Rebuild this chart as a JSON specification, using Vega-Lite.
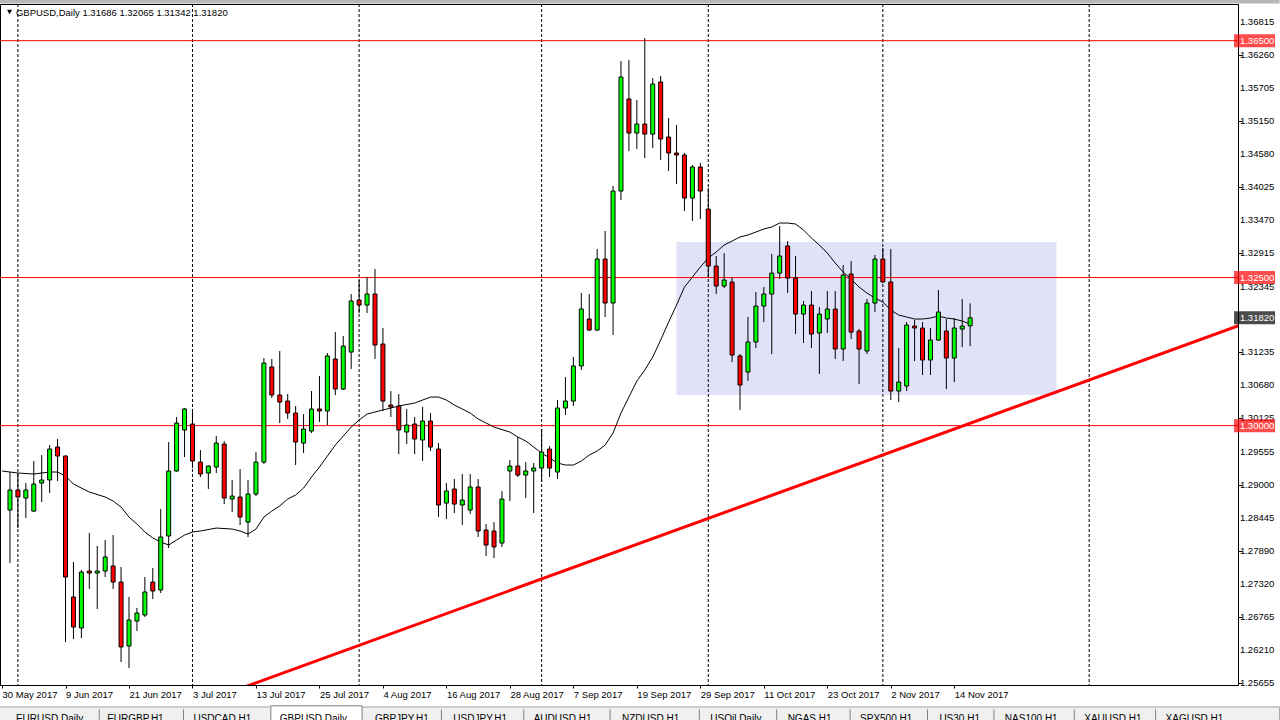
{
  "$schema": "https://vega.github.io/schema/vega-lite/v6.json",
  "width": 1238,
  "height": 681,
  "autosize": {"type": "none"},
  "padding": {"left": 0, "top": 4, "right": 42, "bottom": 35},
  "background": "white",
  "config": {"view": {"stroke": "black", "strokeWidth": 1}, "font": "Liberation Sans", "axis": {"labelOverlap": false, "labelFlush": false, "labelBound": false}},
  "datasets": {
    "bars": [
      {"i":0,"ma":1.29234},
      {"i":1,"o":1.28575,"h":1.29217,"l":1.27680,"c":1.28913},
      {"i":2,"o":1.28913,"h":1.29200,"l":1.28271,"c":1.28795,"ma":1.29200},
      {"i":3,"o":1.28778,"h":1.29031,"l":1.28440,"c":1.28913},
      {"i":4,"o":1.28558,"h":1.29402,"l":1.28540,"c":1.29014,"ma":1.29183},
      {"i":5,"o":1.29031,"h":1.29504,"l":1.28710,"c":1.29082},
      {"i":6,"o":1.29082,"h":1.29672,"l":1.28862,"c":1.29605,"ma":1.29217},
      {"i":7,"o":1.29639,"h":1.29774,"l":1.29065,"c":1.29487,"ma":1.29217},
      {"i":8,"o":1.29487,"h":1.29500,"l":1.26346,"c":1.27444,"ma":1.29149},
      {"i":9,"o":1.27107,"h":1.27697,"l":1.26397,"c":1.26600,"ma":1.29014},
      {"i":10,"o":1.26583,"h":1.27562,"l":1.26414,"c":1.27528},
      {"i":11,"o":1.27545,"h":1.28187,"l":1.27242,"c":1.27511,"ma":1.28879},
      {"i":12,"o":1.27511,"h":1.27968,"l":1.26904,"c":1.27545},
      {"i":13,"o":1.27545,"h":1.28069,"l":1.27444,"c":1.27782,"ma":1.28795},
      {"i":14,"o":1.27630,"h":1.28153,"l":1.27242,"c":1.27359,"ma":1.28727},
      {"i":15,"o":1.27359,"h":1.27613,"l":1.26009,"c":1.26263,"ma":1.28626},
      {"i":16,"o":1.26280,"h":1.27107,"l":1.25908,"c":1.26718,"ma":1.28457},
      {"i":17,"o":1.26701,"h":1.26921,"l":1.26532,"c":1.26836,"ma":1.28339},
      {"i":18,"o":1.26803,"h":1.27444,"l":1.26769,"c":1.27191,"ma":1.28204},
      {"i":19,"o":1.27359,"h":1.27596,"l":1.27073,"c":1.27208,"ma":1.28103},
      {"i":20,"o":1.27225,"h":1.28592,"l":1.27174,"c":1.28120,"ma":1.28035},
      {"i":21,"o":1.28137,"h":1.29723,"l":1.27934,"c":1.29234,"ma":1.27984},
      {"i":22,"o":1.29234,"h":1.30146,"l":1.29220,"c":1.30044,"ma":1.28069},
      {"i":23,"o":1.29926,"h":1.30298,"l":1.29470,"c":1.30281,"ma":1.28153},
      {"i":24,"o":1.30027,"h":1.30230,"l":1.29284,"c":1.29402,"ma":1.28204},
      {"i":25,"o":1.29385,"h":1.29588,"l":1.29132,"c":1.29183,"ma":1.28221},
      {"i":26,"o":1.29200,"h":1.29330,"l":1.28930,"c":1.29318},
      {"i":27,"o":1.29301,"h":1.29825,"l":1.29200,"c":1.29706,"ma":1.28271},
      {"i":28,"o":1.29689,"h":1.29740,"l":1.28676,"c":1.28778},
      {"i":29,"o":1.28761,"h":1.29082,"l":1.28541,"c":1.28811,"ma":1.28254},
      {"i":30,"o":1.28795,"h":1.29267,"l":1.28322,"c":1.28457,"ma":1.28221},
      {"i":31,"o":1.28372,"h":1.29082,"l":1.28120,"c":1.28845,"ma":1.28170},
      {"i":32,"o":1.28845,"h":1.29554,"l":1.28811,"c":1.29385,"ma":1.28254},
      {"i":33,"o":1.29385,"h":1.31142,"l":1.29352,"c":1.31057,"ma":1.28457},
      {"i":34,"o":1.30990,"h":1.31125,"l":1.30466,"c":1.30517,"ma":1.28558},
      {"i":35,"o":1.30517,"h":1.31260,"l":1.30044,"c":1.30398,"ma":1.28643},
      {"i":36,"o":1.30415,"h":1.30533,"l":1.30112,"c":1.30213,"ma":1.28761},
      {"i":37,"o":1.30213,"h":1.30331,"l":1.29335,"c":1.29723,"ma":1.28828},
      {"i":38,"o":1.29706,"h":1.30196,"l":1.29537,"c":1.29943,"ma":1.28946},
      {"i":39,"o":1.29909,"h":1.30584,"l":1.29875,"c":1.30281,"ma":1.29132},
      {"i":40,"o":1.30281,"h":1.30838,"l":1.30061,"c":1.30247,"ma":1.29301},
      {"i":41,"o":1.30247,"h":1.31226,"l":1.30010,"c":1.31176,"ma":1.29487},
      {"i":42,"o":1.31125,"h":1.31580,"l":1.30517,"c":1.30618,"ma":1.29672},
      {"i":43,"o":1.30618,"h":1.31513,"l":1.30600,"c":1.31344},
      {"i":44,"o":1.31243,"h":1.32222,"l":1.30956,"c":1.32104,"ma":1.29976},
      {"i":45,"o":1.32121,"h":1.32458,"l":1.31901,"c":1.32036,"ma":1.30095},
      {"i":46,"o":1.32036,"h":1.32509,"l":1.31901,"c":1.32222,"ma":1.30196},
      {"i":47,"o":1.32222,"h":1.32644,"l":1.31125,"c":1.31361,"ma":1.30230},
      {"i":48,"o":1.31378,"h":1.31648,"l":1.30247,"c":1.30415,"ma":1.30264},
      {"i":49,"o":1.30348,"h":1.30584,"l":1.30146,"c":1.30314},
      {"i":50,"o":1.30331,"h":1.30533,"l":1.29520,"c":1.29926,"ma":1.30331},
      {"i":51,"o":1.29892,"h":1.30281,"l":1.29689,"c":1.30010},
      {"i":52,"o":1.30027,"h":1.30146,"l":1.29520,"c":1.29774,"ma":1.30382},
      {"i":53,"o":1.29757,"h":1.30314,"l":1.29402,"c":1.30078,"ma":1.30432},
      {"i":54,"o":1.30078,"h":1.30213,"l":1.29571,"c":1.29639,"ma":1.30483},
      {"i":55,"o":1.29605,"h":1.29706,"l":1.28457,"c":1.28660,"ma":1.30483},
      {"i":56,"o":1.28693,"h":1.29031,"l":1.28423,"c":1.28896,"ma":1.30432},
      {"i":57,"o":1.28930,"h":1.29099,"l":1.28524,"c":1.28676,"ma":1.30348},
      {"i":58,"o":1.28660,"h":1.29183,"l":1.28322,"c":1.28744,"ma":1.30281},
      {"i":59,"o":1.28575,"h":1.29183,"l":1.28508,"c":1.28964,"ma":1.30213},
      {"i":60,"o":1.28964,"h":1.29099,"l":1.28120,"c":1.28221,"ma":1.30112},
      {"i":61,"o":1.28238,"h":1.28339,"l":1.27799,"c":1.27984},
      {"i":62,"o":1.28221,"h":1.28372,"l":1.27765,"c":1.27951,"ma":1.29976},
      {"i":63,"o":1.28018,"h":1.28896,"l":1.27951,"c":1.28761},
      {"i":64,"o":1.29234,"h":1.29419,"l":1.28727,"c":1.29318,"ma":1.29892},
      {"i":65,"o":1.29318,"h":1.29808,"l":1.29132,"c":1.29166,"ma":1.29808},
      {"i":66,"o":1.29166,"h":1.29385,"l":1.28778,"c":1.29234,"ma":1.29740},
      {"i":67,"o":1.29234,"h":1.29369,"l":1.28524,"c":1.29284,"ma":1.29639},
      {"i":68,"o":1.29284,"h":1.29943,"l":1.29048,"c":1.29554,"ma":1.29537},
      {"i":69,"o":1.29605,"h":1.29656,"l":1.29132,"c":1.29284,"ma":1.29453},
      {"i":70,"o":1.29217,"h":1.30432,"l":1.29099,"c":1.30298,"ma":1.29369},
      {"i":71,"o":1.30298,"h":1.30821,"l":1.30179,"c":1.30415,"ma":1.29335},
      {"i":72,"o":1.30415,"h":1.31159,"l":1.30331,"c":1.31007,"ma":1.29335},
      {"i":73,"o":1.31007,"h":1.32239,"l":1.30939,"c":1.31969,"ma":1.29402},
      {"i":74,"o":1.31800,"h":1.32222,"l":1.31597,"c":1.31614,"ma":1.29504},
      {"i":75,"o":1.31614,"h":1.32982,"l":1.31597,"c":1.32813,"ma":1.29571},
      {"i":76,"o":1.32813,"h":1.33286,"l":1.31834,"c":1.32070,"ma":1.29672},
      {"i":77,"o":1.32070,"h":1.34046,"l":1.31530,"c":1.33961,"ma":1.29875},
      {"i":78,"o":1.33961,"h":1.36156,"l":1.33809,"c":1.35886,"ma":1.30213},
      {"i":79,"o":1.35515,"h":1.36173,"l":1.34636,"c":1.34940,"ma":1.30483},
      {"i":80,"o":1.34940,"h":1.35498,"l":1.34670,"c":1.35092,"ma":1.30753},
      {"i":81,"o":1.35092,"h":1.36545,"l":1.34518,"c":1.34923,"ma":1.30939},
      {"i":82,"o":1.34923,"h":1.35869,"l":1.34687,"c":1.35768,"ma":1.31159},
      {"i":83,"o":1.35802,"h":1.35903,"l":1.34485,"c":1.34839,"ma":1.31445},
      {"i":84,"o":1.34873,"h":1.35194,"l":1.34299,"c":1.34603,"ma":1.31749},
      {"i":85,"o":1.34603,"h":1.35076,"l":1.34080,"c":1.34569,"ma":1.32036},
      {"i":86,"o":1.34569,"h":1.34603,"l":1.33623,"c":1.33843,"ma":1.32340},
      {"i":87,"o":1.33843,"h":1.34400,"l":1.33454,"c":1.34367,"ma":1.32509},
      {"i":88,"o":1.34367,"h":1.34434,"l":1.33488,"c":1.33961,"ma":1.32678},
      {"i":89,"o":1.33657,"h":1.34012,"l":1.32509,"c":1.32695,"ma":1.32830},
      {"i":90,"o":1.32695,"h":1.32864,"l":1.32222,"c":1.32357,"ma":1.32931},
      {"i":91,"o":1.32357,"h":1.32914,"l":1.32323,"c":1.32458,"ma":1.33050},
      {"i":92,"o":1.32425,"h":1.32509,"l":1.31074,"c":1.31192,"ma":1.33117},
      {"i":93,"o":1.31176,"h":1.31209,"l":1.30264,"c":1.30686,"ma":1.33185},
      {"i":94,"o":1.30905,"h":1.31834,"l":1.30753,"c":1.31412,"ma":1.33219},
      {"i":95,"o":1.31412,"h":1.32256,"l":1.31310,"c":1.32019,"ma":1.33269},
      {"i":96,"o":1.32019,"h":1.32340,"l":1.31749,"c":1.32222,"ma":1.33320},
      {"i":97,"o":1.32222,"h":1.32898,"l":1.31209,"c":1.32576,"ma":1.33354},
      {"i":98,"o":1.32576,"h":1.33370,"l":1.32475,"c":1.32864,"ma":1.33421},
      {"i":99,"o":1.33033,"h":1.33117,"l":1.32239,"c":1.32492,"ma":1.33421},
      {"i":100,"o":1.32492,"h":1.32864,"l":1.31547,"c":1.31884,"ma":1.33404},
      {"i":101,"o":1.31884,"h":1.32104,"l":1.31395,"c":1.32036,"ma":1.33303},
      {"i":102,"o":1.32036,"h":1.32273,"l":1.31310,"c":1.31547,"ma":1.33168},
      {"i":103,"o":1.31564,"h":1.32003,"l":1.30871,"c":1.31884,"ma":1.33050},
      {"i":104,"o":1.31800,"h":1.32273,"l":1.31564,"c":1.31969,"ma":1.32914},
      {"i":105,"o":1.31969,"h":1.32273,"l":1.31125,"c":1.31294,"ma":1.32745},
      {"i":106,"o":1.31294,"h":1.32712,"l":1.31091,"c":1.32543,"ma":1.32593},
      {"i":107,"o":1.32560,"h":1.32779,"l":1.31462,"c":1.31580,"ma":1.32475},
      {"i":108,"o":1.31597,"h":1.31631,"l":1.30703,"c":1.31294,"ma":1.32340},
      {"i":109,"o":1.31260,"h":1.32138,"l":1.31209,"c":1.32070,"ma":1.32239},
      {"i":110,"o":1.32070,"h":1.32881,"l":1.31918,"c":1.32813,"ma":1.32154},
      {"i":111,"o":1.32813,"h":1.32999,"l":1.32410,"c":1.32425,"ma":1.32087},
      {"i":112,"o":1.32425,"h":1.32982,"l":1.30432,"c":1.30584,"ma":1.31952},
      {"i":113,"o":1.30584,"h":1.31310,"l":1.30398,"c":1.30736,"ma":1.31867},
      {"i":114,"o":1.30669,"h":1.31749,"l":1.30584,"c":1.31698,"ma":1.31834},
      {"i":115,"o":1.31681,"h":1.31783,"l":1.31091,"c":1.31648,"ma":1.31800},
      {"i":116,"o":1.31648,"h":1.31749,"l":1.30855,"c":1.31108,"ma":1.31800},
      {"i":117,"o":1.31108,"h":1.31648,"l":1.30855,"c":1.31445,"ma":1.31817},
      {"i":118,"o":1.31445,"h":1.32290,"l":1.31430,"c":1.31918,"ma":1.31851},
      {"i":119,"o":1.31597,"h":1.31800,"l":1.30618,"c":1.31142,"ma":1.31817},
      {"i":120,"o":1.31142,"h":1.31817,"l":1.30736,"c":1.31648,"ma":1.31800},
      {"i":121,"o":1.31631,"h":1.32138,"l":1.31327,"c":1.31681,"ma":1.31766},
      {"i":122,"o":1.31686,"h":1.32065,"l":1.31342,"c":1.31820,"ma":1.31715}
    ],
    "box": [{"x1": 85, "x2": 132.875, "y1": 1.30517, "y2": 1.33100}],
    "seps": [{"i": 2}, {"i": 24}, {"i": 45}, {"i": 68}, {"i": 89}, {"i": 111}, {"i": 137}],
    "levels": [{"p": 1.365}, {"p": 1.325}, {"p": 1.3}],
    "trend": [{"i": 28, "p": 1.25463}, {"i": 156, "p": 1.31697}],
    "ylabels": [
      {"p": 1.36815, "t": "1.36815"}, {"p": 1.3626, "t": "1.36260"}, {"p": 1.35705, "t": "1.35705"},
      {"p": 1.3515, "t": "1.35150"}, {"p": 1.3458, "t": "1.34580"}, {"p": 1.34025, "t": "1.34025"},
      {"p": 1.3347, "t": "1.33470"}, {"p": 1.32915, "t": "1.32915"}, {"p": 1.32345, "t": "1.32345"},
      {"p": 1.31235, "t": "1.31235"}, {"p": 1.3068, "t": "1.30680"}, {"p": 1.30125, "t": "1.30125"},
      {"p": 1.29555, "t": "1.29555"}, {"p": 1.29, "t": "1.29000"}, {"p": 1.28445, "t": "1.28445"},
      {"p": 1.2789, "t": "1.27890"}, {"p": 1.2732, "t": "1.27320"}, {"p": 1.26765, "t": "1.26765"},
      {"p": 1.2621, "t": "1.26210"}, {"p": 1.25655, "t": "1.25655"}
    ],
    "tags": [
      {"p": 1.365, "t": "1.36500", "k": "lvl"},
      {"p": 1.325, "t": "1.32500", "k": "lvl"},
      {"p": 1.3, "t": "1.30000", "k": "lvl"},
      {"p": 1.3182, "t": "1.31820", "k": "cur"}
    ],
    "header": [{"t": "GBPUSD,Daily  1.31686 1.32065 1.31342 1.31820"}],
    "tabs": [
      {"t": "EURUSD,Daily", "x": 1.75},
      {"t": "EURGBP,H1", "x": 13.25},
      {"t": "USDCAD,H1", "x": 24.125},
      {"t": "GBPUSD,Daily", "x": 35.0},
      {"t": "GBPJPY,H1", "x": 47.0},
      {"t": "USDJPY,H1", "x": 56.875},
      {"t": "AUDUSD,H1", "x": 67.0},
      {"t": "NZDUSD,H1", "x": 78.125},
      {"t": "USOil,Daily", "x": 89.25},
      {"t": "NGAS,H1", "x": 99.0},
      {"t": "SPX500,H1", "x": 108.125},
      {"t": "US30,H1", "x": 118.125},
      {"t": "NAS100,H1", "x": 126.375},
      {"t": "XAUUSD,H1", "x": 136.375},
      {"t": "XAGUSD,H1", "x": 146.625}
    ],
    "tabseps": [{"x": 12.25}, {"x": 22.875}, {"x": 55.375}, {"x": 65.75}, {"x": 76.625}, {"x": 87.875}, {"x": 97.625}, {"x": 106.875}, {"x": 116.625}, {"x": 125.0}, {"x": 135.125}, {"x": 145.375}]
  },
  "layer": [
    {
      "data": {"name": "box"},
      "mark": {"type": "rect", "color": "#e1e2f7"},
      "encoding": {
        "x": {"field": "x1", "type": "quantitative", "scale": {"domain": [0.375, 155.125], "nice": false, "zero": false},
          "axis": {"orient": "bottom", "values": [0, 8, 16, 24, 32, 40, 48, 56, 64, 72, 80, 88, 96, 104, 112, 120],
            "labelExpr": "['30 May 2017','9 Jun 2017','21 Jun 2017','3 Jul 2017','13 Jul 2017','25 Jul 2017','4 Aug 2017','16 Aug 2017','28 Aug 2017','7 Sep 2017','19 Sep 2017','29 Sep 2017','11 Oct 2017','23 Oct 2017','2 Nov 2017','14 Nov 2017'][round(datum.value/8)]",
            "labelAlign": "left", "labelBaseline": "top", "labelPadding": 1, "tickSize": 3, "tickColor": "black", "domainColor": "black", "labelColor": "black", "labelFont": "Liberation Sans", "labelFontSize": 9.5, "grid": false, "title": null, "labelOverlap": false, "labelFlush": false, "labelBound": false}},
        "x2": {"field": "x2"},
        "y": {"field": "y1", "type": "quantitative", "scale": {"domain": [1.25621, 1.37119], "nice": false, "zero": false},
          "axis": {"orient": "right", "values": [1.36815, 1.3626, 1.35705, 1.3515, 1.3458, 1.34025, 1.3347, 1.32915, 1.32345, 1.31235, 1.3068, 1.30125, 1.29555, 1.29, 1.28445, 1.2789, 1.2732, 1.26765, 1.2621, 1.25655],
            "labels": false, "tickSize": 4, "domainColor": "black", "tickColor": "black", "grid": false, "title": null}},
        "y2": {"field": "y2"}
      }
    },
    {
      "data": {"name": "seps"},
      "mark": {"type": "rule", "color": "black", "strokeWidth": 1, "strokeDash": [3, 2]},
      "encoding": {"x": {"field": "i", "type": "quantitative"}}
    },
    {
      "data": {"name": "levels"},
      "mark": {"type": "rule", "color": "#ff0000", "strokeWidth": 1},
      "encoding": {"y": {"field": "p", "type": "quantitative"}}
    },
    {
      "data": {"name": "bars"},
      "transform": [{"filter": {"field": "ma", "valid": true}}],
      "mark": {"type": "line", "color": "black", "strokeWidth": 1, "clip": true},
      "encoding": {"x": {"field": "i", "type": "quantitative"}, "y": {"field": "ma", "type": "quantitative"}}
    },
    {
      "data": {"name": "bars"},
      "mark": {"type": "rule", "color": "black", "strokeWidth": 1, "clip": true},
      "encoding": {"x": {"field": "i", "type": "quantitative"}, "y": {"field": "l", "type": "quantitative"}, "y2": {"field": "h"}}
    },
    {
      "data": {"name": "bars"},
      "mark": {"type": "bar", "size": 4, "stroke": "black", "strokeWidth": 1, "clip": true},
      "encoding": {
        "x": {"field": "i", "type": "quantitative"},
        "y": {"field": "o", "type": "quantitative"},
        "y2": {"field": "c"},
        "fill": {"condition": {"test": "datum.c >= datum.o", "value": "#00ff00"}, "value": "#ff0000"}
      }
    },
    {
      "data": {"name": "trend"},
      "mark": {"type": "line", "color": "#ff0000", "strokeWidth": 3, "clip": true},
      "encoding": {"x": {"field": "i", "type": "quantitative"}, "y": {"field": "p", "type": "quantitative"}}
    },
    {
      "data": {"name": "ylabels"},
      "mark": {"type": "text", "align": "left", "baseline": "middle", "color": "black", "font": "Liberation Sans", "fontSize": 9.5},
      "encoding": {
        "x": {"datum": 156.0, "type": "quantitative"},
        "y": {"field": "p", "type": "quantitative"},
        "text": {"field": "t"}
      }
    },
    {
      "data": {"name": "tags"},
      "mark": {"type": "tick", "orient": "horizontal", "size": 41, "thickness": 13},
      "encoding": {
        "x": {"datum": 157.84, "type": "quantitative"},
        "y": {"field": "p", "type": "quantitative"},
        "color": {"condition": {"test": "datum.k == 'cur'", "value": "black"}, "value": "#ff0000"}
      }
    },
    {
      "data": {"name": "tags"},
      "mark": {"type": "text", "align": "left", "baseline": "middle", "color": "white", "font": "Liberation Sans", "fontSize": 9.5},
      "encoding": {
        "x": {"datum": 156.0, "type": "quantitative"},
        "y": {"field": "p", "type": "quantitative"},
        "text": {"field": "t"}
      }
    },
    {
      "data": {"name": "header"},
      "mark": {"type": "text", "align": "left", "baseline": "middle", "color": "black", "font": "Liberation Sans", "fontSize": 9.5},
      "encoding": {
        "x": {"datum": 1.75, "type": "quantitative"},
        "y": {"datum": 1.36967, "type": "quantitative"},
        "text": {"field": "t"}
      }
    },
    {
      "data": {"values": [{}]},
      "mark": {"type": "point", "shape": "triangle-down", "filled": true, "color": "black", "size": 25, "opacity": 1},
      "encoding": {"x": {"datum": 0.95, "type": "quantitative"}, "y": {"datum": 1.36984, "type": "quantitative"}}
    },
    {
      "data": {"values": [{}]},
      "mark": {"type": "rect", "color": "#b8b8b8"},
      "encoding": {"x": {"datum": -1, "type": "quantitative"}, "x2": {"datum": 161}, "y": {"datum": 1.3725, "type": "quantitative"}, "y2": {"datum": 1.37127}}
    },
    {
      "data": {"values": [{}]},
      "mark": {"type": "rect", "fill": "#f0f0f0", "stroke": "#a0a0a0", "strokeWidth": 1},
      "encoding": {"x": {"datum": -1, "type": "quantitative"}, "x2": {"datum": 161}, "y": {"datum": 1.2525, "type": "quantitative"}, "y2": {"datum": 1.2480}}
    },
    {
      "data": {"values": [{}]},
      "mark": {"type": "rect", "fill": "white", "stroke": "#808080", "strokeWidth": 1},
      "encoding": {"x": {"datum": 33.875, "type": "quantitative"}, "x2": {"datum": 45.375}, "y": {"datum": 1.2527, "type": "quantitative"}, "y2": {"datum": 1.2480}}
    },
    {
      "data": {"name": "tabseps"},
      "mark": {"type": "rule", "color": "#808080", "strokeWidth": 1},
      "encoding": {"x": {"field": "x", "type": "quantitative"}, "y": {"datum": 1.2521, "type": "quantitative"}, "y2": {"datum": 1.2495}}
    },
    {
      "data": {"name": "tabs"},
      "mark": {"type": "text", "align": "left", "baseline": "alphabetic", "color": "black", "font": "Liberation Sans", "fontSize": 10},
      "encoding": {
        "x": {"field": "x", "type": "quantitative"},
        "y": {"datum": 1.2500, "type": "quantitative"},
        "text": {"field": "t"}
      }
    }
  ]
}
